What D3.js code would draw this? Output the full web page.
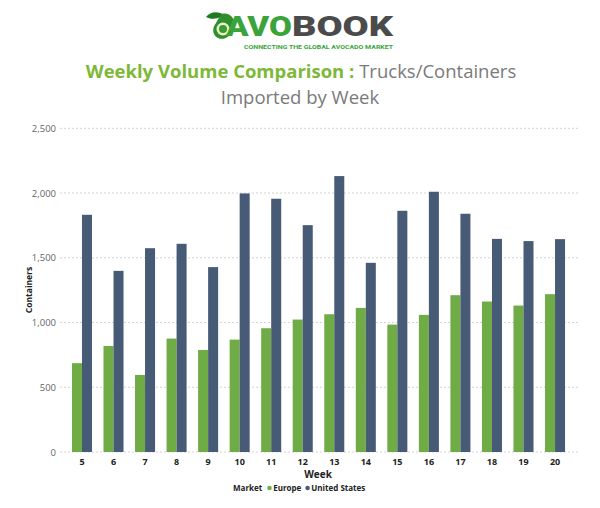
<!DOCTYPE html>
<html>
<head>
<meta charset="utf-8">
<script src="https://cdn.jsdelivr.net/npm/d3@7"></script>
<style>
  html, body { margin: 0; padding: 0; background: #fff; }
  svg { display: block; font-family: "Open Sans", "Noto Sans", sans-serif; }
</style>
</head>
<body>
<svg id="chart" width="600" height="508"></svg>
<script>
// ---- data ----
const weeks = ["5","6","7","8","9","10","11","12","13","14","15","16","17","18","19","20"];
const markets = ["Europe", "United States"];
const europe = [686, 819, 595, 876, 788, 868, 956, 1023, 1064, 1113, 984, 1059, 1211, 1162, 1131, 1219];
const unitedStates = [1832, 1399, 1574, 1608, 1428, 1997, 1956, 1752, 2131, 1461, 1863, 2010, 1840, 1646, 1629, 1644];
const yTicks = [0, 500, 1000, 1500, 2000, 2500];

const colors = { "Europe": "#70ac45", "United States": "#475a76" };
const table = weeks.map((w, i) => ({ week: w, values: { "Europe": europe[i], "United States": unitedStates[i] } }));

const svg = d3.select("#chart");

// ---- logo ----
const logo = svg.append("g");
logo.append("path")
  .attr("d", "M206,17 C210,11 219,11 224,15 C219,19 211,20 206,17 Z")
  .attr("fill", "#1f7a22");
logo.append("path")
  .attr("d", "M222,14 C229,12 236,18 234,27 C232,36 224,41 218,38 C212,35 212,28 216,23 C218,20 219,16 222,14 Z")
  .attr("fill", "#2f8f2e");
logo.append("ellipse").attr("cx", 223).attr("cy", 29).attr("rx", 6.5).attr("ry", 6.5).attr("fill", "#e9f3c8");
logo.append("ellipse").attr("cx", 223).attr("cy", 29).attr("rx", 4).attr("ry", 4).attr("fill", "#3c9a33");
logo.append("text").attr("x", 226).attr("y", 36)
  .attr("font-family", "Roboto, 'DejaVu Sans', sans-serif").attr("font-weight", 900).attr("font-size", 27)
  .attr("fill", "#3aa43a").attr("textLength", 66).attr("lengthAdjust", "spacingAndGlyphs").text("AVO");
logo.append("text").attr("x", 292).attr("y", 36)
  .attr("font-family", "Roboto, 'DejaVu Sans', sans-serif").attr("font-weight", 900).attr("font-size", 27)
  .attr("fill", "#4b4b4b").attr("textLength", 101).attr("lengthAdjust", "spacingAndGlyphs").text("BOOK");
logo.append("text").attr("x", 244).attr("y", 48.5)
  .attr("font-family", "Roboto, sans-serif").attr("font-weight", 700).attr("font-size", 6)
  .attr("fill", "#3aa43a").attr("textLength", 149).attr("lengthAdjust", "spacingAndGlyphs")
  .text("CONNECTING THE GLOBAL AVOCADO MARKET");

// ---- title ----
const t1 = svg.append("text").attr("x", 301).attr("y", 78).attr("text-anchor", "middle").attr("font-size", 18.5);
t1.append("tspan").attr("font-weight", 700).attr("fill", "#7db838").text("Weekly Volume Comparison : ");
t1.append("tspan").attr("fill", "#7a7a7a").text("Trucks/Containers");
svg.append("text").attr("x", 300).attr("y", 104).attr("text-anchor", "middle").attr("font-size", 18.5)
  .attr("fill", "#7a7a7a").text("Imported by Week");

// ---- scales ----
const y = d3.scaleLinear().domain([0, 2500]).range([452, 128.3]);
const x = d3.scaleBand().domain(weeks).range([66.2, 570.8]).paddingInner(0.365).paddingOuter(0.1825);
const xSub = d3.scaleBand().domain(markets).range([0, x.bandwidth()]);

// ---- gridlines & y axis ----
const yAxis = d3.axisLeft(y).tickValues(yTicks).tickFormat(d3.format(",")).tickSize(0).tickPadding(0);
const yg = svg.append("g").attr("transform", "translate(56,0)").call(yAxis);
yg.select(".domain").remove();
yg.selectAll("text").attr("font-size", 9.5).attr("fill", "#666").attr("font-family", "'Open Sans', sans-serif");

svg.append("g").selectAll("line").data(yTicks).join("line")
  .attr("x1", 60).attr("x2", 578)
  .attr("y1", d => y(d)).attr("y2", d => y(d))
  .attr("stroke", "#c8c8c8").attr("stroke-width", 0.8).attr("stroke-dasharray", "2,2");

// ---- bars ----
const groups = svg.append("g").selectAll("g").data(table).join("g")
  .attr("transform", d => `translate(${x(d.week)},0)`);
groups.selectAll("rect").data(d => markets.map(m => ({ m, v: d.values[m] }))).join("rect")
  .attr("x", d => xSub(d.m))
  .attr("width", xSub.bandwidth())
  .attr("y", d => y(d.v))
  .attr("height", d => y(0) - y(d.v))
  .attr("fill", d => colors[d.m]);

// ---- x axis ----
const xAxis = d3.axisBottom(x).tickSize(0).tickPadding(0);
const xg = svg.append("g").attr("transform", "translate(0,459)").call(xAxis);
xg.select(".domain").remove();
xg.selectAll("text").attr("font-size", 9).attr("font-weight", 700).attr("fill", "#222")
  .attr("font-family", "'Open Sans', sans-serif");

// ---- axis titles ----
svg.append("text").attr("x", 318).attr("y", 478).attr("text-anchor", "middle")
  .attr("font-size", 10).attr("font-weight", 700).attr("fill", "#222").text("Week");
svg.append("text").attr("transform", "translate(32,290) rotate(-90)").attr("text-anchor", "middle")
  .attr("font-size", 8.5).attr("font-weight", 700).attr("fill", "#222").text("Containers");

// ---- legend (laid out sequentially) ----
const lg = svg.append("g").attr("font-size", 8).attr("font-weight", 700).attr("fill", "#222");
let cx = 233;
const mk = lg.append("text").attr("x", cx).attr("y", 491).text("Market");
cx += mk.node().getComputedTextLength() + 5;
markets.forEach(m => {
  lg.append("circle").attr("cx", cx + 2.3).attr("cy", 488).attr("r", 2.3).attr("fill", colors[m]);
  const t = lg.append("text").attr("x", cx + 6).attr("y", 491).text(m);
  cx += 6 + t.node().getComputedTextLength() + 4;
});
</script>
</body>
</html>
